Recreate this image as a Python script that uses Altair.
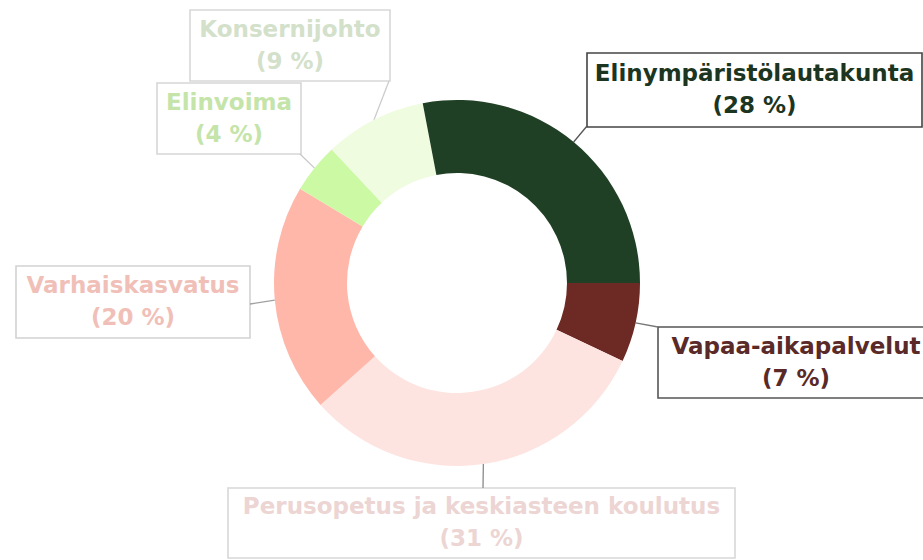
import math
import altair as alt
import pandas as pd

# ---- data ----
names = [
    "Vapaa-aikapalvelut",
    "Perusopetus ja keskiasteen koulutus",
    "Varhaiskasvatus",
    "Elinvoima",
    "Konsernijohto",
    "Elinympäristölautakunta",
]
values = [7.0, 31.4, 20.2, 4.4, 9.0, 28.0]
pct_labels = ["(7 %)", "(31 %)", "(20 %)", "(4 %)", "(9 %)", "(28 %)"]

# ---- styles ----
slice_colors = ["#6d2a24", "#fde4e0", "#ffb7aa", "#ccf9a4", "#effcdf", "#1f4024"]
text_colors = ["#5a2a28", "#ecd5d3", "#f0c0b8", "#c4e4aa", "#d3e0ca", "#1c3520"]
box_colors = ["#555555", "#d8d8d8", "#d2d2d2", "#d6d6d6", "#d8d8d8", "#444444"]
lead_colors = ["#777777", "#8a8a8a", "#a0a0a0", "#c8c8c8", "#cccccc", "#555555"]

# ---- layout (pixels) ----
W, H = 923, 560
CX, CY = 457, 283
R_OUT, R_IN = 183, 110
START = math.pi / 2  # first slice starts at 3 o'clock
# label boxes: x0, x1, y0, y1
boxes = [
    (658, 934, 327, 398),
    (228, 735, 488, 558),
    (16, 250, 266, 338),
    (157, 301, 83, 154),
    (190, 390, 10, 81),
    (587, 922, 53, 127),
]
leader_ends = [(658, 327), (483, 488), (250, 304), (300, 154), (389, 81), (587, 126)]

total = sum(values)
arc_df = pd.DataFrame({"name": names, "value": values, "ord": list(range(len(names)))})

# leader start points at slice mid-angle on the outer edge
rows = []
cum = 0.0
for i, (n, v) in enumerate(zip(names, values)):
    mid = START + 2 * math.pi * (cum + v / 2) / total
    cum += v
    sx = CX + R_OUT * math.sin(mid)
    sy = CY - R_OUT * math.cos(mid)
    x0, x1, y0, y1 = boxes[i]
    ex, ey = leader_ends[i]
    rows.append(dict(name=n, sx=sx, sy=sy, ex=ex, ey=ey, x0=x0, x1=x1, y0=y0, y1=y1,
                     cx=(x0 + x1) / 2, cy=(y0 + y1) / 2))
lab_df = pd.DataFrame(rows)

txt_rows = []
for i, r in enumerate(rows):
    txt_rows.append(dict(name=names[i], t=names[i], x=r["cx"], y=r["cy"] - 16))
    txt_rows.append(dict(name=names[i], t=pct_labels[i], x=r["cx"], y=r["cy"] + 16))
txt_df = pd.DataFrame(txt_rows)

xs = alt.Scale(domain=[0, W], range=[0, W], nice=False, zero=False)
ys = alt.Scale(domain=[0, H], range=[0, H], nice=False, zero=False)

arcs = alt.Chart(arc_df).mark_arc(outerRadius=R_OUT, innerRadius=R_IN).encode(
    theta=alt.Theta("value:Q", stack=True,
                    scale=alt.Scale(domain=[0, total], range=[START, START + 2 * math.pi])),
    color=alt.Color("name:N", scale=alt.Scale(domain=names, range=slice_colors), legend=None),
    order=alt.Order("ord:Q"),
    x=alt.value(CX),
    y=alt.value(CY),
)

rects = alt.Chart(lab_df).mark_rect(fill="white", strokeWidth=1.6).encode(
    x=alt.X("x0:Q", scale=xs, axis=None),
    x2="x1:Q",
    y=alt.Y("y0:Q", scale=ys, axis=None),
    y2="y1:Q",
    stroke=alt.Stroke("name:N", scale=alt.Scale(domain=names, range=box_colors), legend=None),
)

leaders = alt.Chart(lab_df).mark_rule(strokeWidth=1.3).encode(
    x=alt.X("sx:Q", scale=xs, axis=None),
    y=alt.Y("sy:Q", scale=ys, axis=None),
    x2="ex:Q",
    y2="ey:Q",
    stroke=alt.Stroke("name:N", scale=alt.Scale(domain=names, range=lead_colors), legend=None),
)

texts = alt.Chart(txt_df).mark_text(
    font="DejaVu Sans", fontWeight="bold", fontSize=23, align="center", baseline="middle"
).encode(
    x=alt.X("x:Q", scale=xs, axis=None),
    y=alt.Y("y:Q", scale=ys, axis=None),
    text="t:N",
    color=alt.Color("name:N", scale=alt.Scale(domain=names, range=text_colors), legend=None),
)

chart = alt.layer(rects, leaders, arcs, texts).resolve_scale(
    color="independent", stroke="independent"
).properties(
    width=W, height=H, autosize=alt.AutoSizeParams(type="none"), padding=0, background="white"
).configure_view(stroke=None)

chart.save("out.html", embed_options={"renderer": "svg", "actions": False})
